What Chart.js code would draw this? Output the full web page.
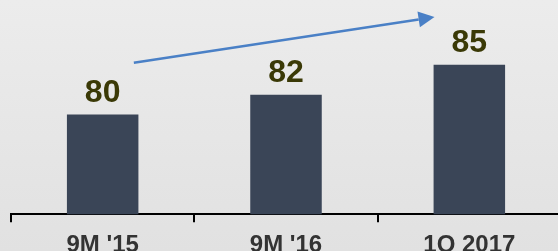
<!DOCTYPE html>
<html>
<head>
<meta charset="utf-8">
<script src="https://cdn.jsdelivr.net/npm/chart.js"></script>
<style>
html,body{margin:0;padding:0;overflow:hidden;}
body{background:linear-gradient(#ececec,#e1e1e1);height:251px;}
#canvasG1{display:block;}
</style>
</head>
<body>
<canvas id="canvasG1" width="561" height="269"></canvas>
<script>
//챠트 데이터
var catLabels = ["9M '15", "9M '16", "1Q 2017"];
var barValues = [80, 82, 85];
var yRange = [70, 90];
//화살표 시작/끝 (x = 카테고리 인덱스, y = 값)
var arrowFrom = [0.17, 85.2];
var arrowTo = [1.81, 89.8];

var barColor = "#3a4557";
var labelColor = "#3a3906";
var arrowColor = "#4a80c6";
var fontNm = "'Liberation Sans', Arial, sans-serif";

//막대 위 값 표시
var valueLabelPlugin = {
	id: 'valueLabel',
	afterDatasetsDraw: function(chart){
		var ctx = chart.ctx;
		var meta = chart.getDatasetMeta(0);
		ctx.save();
		ctx.fillStyle = labelColor;
		ctx.font = "bold 32px " + fontNm;
		ctx.textAlign = "center";
		ctx.textBaseline = "alphabetic";
		for(var i=0;i<meta.data.length;i++){
			var el = meta.data[i];
			ctx.fillText(String(barValues[i]), el.x, el.y - 13);
		}
		ctx.restore();
	}
};

//증가 화살표
var arrowPlugin = {
	id: 'arrowG1',
	afterDraw: function(chart){
		var sx = chart.scales.x, sy = chart.scales.y;
		var x1 = sx.getPixelForValue(arrowFrom[0]), y1 = sy.getPixelForValue(arrowFrom[1]);
		var x2 = sx.getPixelForValue(arrowTo[0]), y2 = sy.getPixelForValue(arrowTo[1]);
		var ang = Math.atan2(y2 - y1, x2 - x1);
		var headL = 16, headW = 8;
		var bx = x2 - headL * Math.cos(ang), by = y2 - headL * Math.sin(ang);
		var ctx = chart.ctx;
		ctx.save();
		ctx.strokeStyle = arrowColor;
		ctx.fillStyle = arrowColor;
		ctx.lineWidth = 2.5;
		ctx.beginPath();
		ctx.moveTo(x1, y1);
		ctx.lineTo(bx, by);
		ctx.stroke();
		ctx.beginPath();
		ctx.moveTo(x2, y2);
		ctx.lineTo(bx + headW * Math.sin(ang), by - headW * Math.cos(ang));
		ctx.lineTo(bx - headW * Math.sin(ang), by + headW * Math.cos(ang));
		ctx.closePath();
		ctx.fill();
		ctx.restore();
	}
};

var ctx = document.getElementById('canvasG1').getContext('2d');
window.myBarG1 = new Chart(ctx, {
	type: 'bar',
	data: {
		labels: catLabels,
		datasets: [{
			data: barValues,
			backgroundColor: barColor,
			borderWidth: 0,
			barPercentage: 0.39,
			categoryPercentage: 1.0
		}]
	},
	options: {
		responsive: false,
		devicePixelRatio: 1,
		animation: false,
		layout: { padding: { top: 15, left: 11, right: 0, bottom: 0 } },
		plugins: {
			legend: { display: false },
			tooltip: { enabled: false }
		},
		scales: {
			y: { display: false, min: yRange[0], max: yRange[1] },
			x: {
				offset: true,
				grid: { offset: true, drawOnChartArea: false, drawTicks: true, tickLength: 8, color: '#000', lineWidth: 2 },
				border: { display: true, color: '#000', width: 2 },
				ticks: { color: '#333', padding: 9, font: { family: fontNm, size: 24, weight: 'bold' } }
			}
		}
	},
	plugins: [valueLabelPlugin, arrowPlugin]
});
</script>
</body>
</html>
